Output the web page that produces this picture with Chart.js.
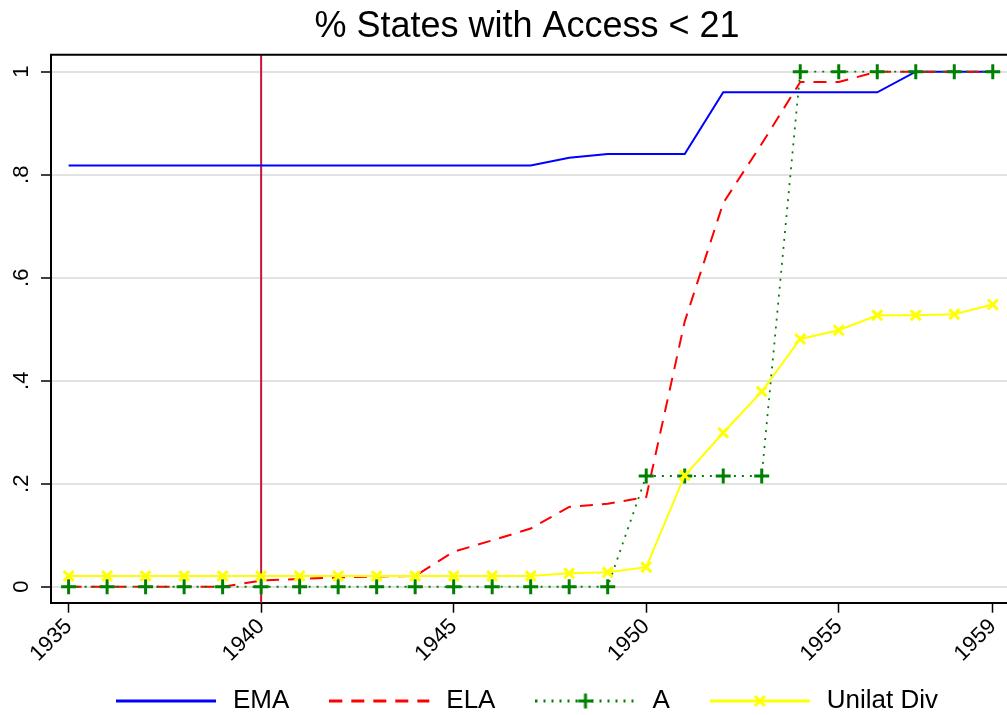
<!DOCTYPE html>
<html><head><meta charset="utf-8">
<script src="https://cdn.jsdelivr.net/npm/chart.js@4/dist/chart.umd.min.js"></script>
<style>
html,body{margin:0;padding:0;overflow:hidden;background:#fff;width:1007px;height:715px}
#wrap{position:absolute;left:0;top:0;width:1054px;height:724px}
</style>
</head><body>
<div id="wrap"><canvas id="c"></canvas></div>
<script>
// ---- data ----
const years = [1935,1936,1937,1938,1939,1940,1941,1942,1943,1944,1945,1946,1947,1948,1949,1950,1951,1952,1953,1954,1955,1956,1957,1958,1959];
const ema = [0.818,0.818,0.818,0.818,0.818,0.818,0.818,0.818,0.818,0.818,0.818,0.818,0.818,0.833,0.840,0.840,0.840,0.960,0.960,0.960,0.960,0.960,1,1,1];
const ela = [0,0,0,0,0,0.012,0.015,0.018,0.020,0.021,0.068,0.090,0.113,0.155,0.161,0.174,0.515,0.745,0.860,0.980,0.980,1,1,1,1];
const aSeries = [0,0,0,0,0,0,0,0,0,0,0,0,0,0,0,0.215,0.215,0.215,0.215,1,1,1,1,1,1];
const unilat = [0.021,0.021,0.021,0.021,0.021,0.021,0.021,0.021,0.021,0.021,0.021,0.021,0.021,0.026,0.028,0.038,0.216,0.299,0.379,0.481,0.498,0.527,0.527,0.529,0.548];
const seriesNames = ['EMA','ELA','A','Unilat Div'];
const xTickValues = [1935,1940,1945,1950,1955,1959];
const yTickValues = [0,0.2,0.4,0.6,0.8,1];
const yTickLabels = ['0','.2','.4','.6','.8','1'];
const markerYear = 1940;
const titleText = '% States with Access < 21';

// ---- styles ----
const FONT = "'Liberation Sans', Arial, Helvetica, sans-serif";
const colors = ['#0000ff','#ff0000','#008000','#ffff00'];
const dashes = [[],[13,9],[2,6],[]];
const widths = [2,2,1.8,2];
const markerStyles = [false,false,'cross','crossRot'];
const markerRadius = [0,0,7.5,7];

// linear scale whose tick labels are not clipped to the axis box
class OpenLinearScale extends Chart.LinearScale {
  _computeLabelArea() { return undefined; }
}
OpenLinearScale.id = 'openLinear';
OpenLinearScale.defaults = Chart.LinearScale.defaults;
Chart.register(OpenLinearScale);

function drawMarker(ctx, style, x, y, r, color, w){
  ctx.save();
  ctx.setLineDash([]);
  ctx.strokeStyle = color; ctx.lineWidth = w;
  ctx.beginPath();
  if (style === 'cross'){
    ctx.moveTo(x - r, y); ctx.lineTo(x + r, y);
    ctx.moveTo(x, y - r); ctx.lineTo(x, y + r);
  } else if (style === 'crossRot'){
    const d = r * Math.SQRT1_2;
    ctx.moveTo(x - d, y - d); ctx.lineTo(x + d, y + d);
    ctx.moveTo(x - d, y + d); ctx.lineTo(x + d, y - d);
  }
  ctx.stroke();
  ctx.restore();
}
function makeSwatch(i){
  const c = document.createElement('canvas');
  c.width = 104; c.height = 24;
  const ctx = c.getContext('2d');
  ctx.strokeStyle = colors[i];
  ctx.lineWidth = widths[i] + 1;
  ctx.setLineDash(dashes[i]);
  ctx.beginPath(); ctx.moveTo(0, 12); ctx.lineTo(100, 12); ctx.stroke();
  if (markerStyles[i]) drawMarker(ctx, markerStyles[i], 50, 12, markerRadius[i], colors[i], 3);
  return c;
}
const swatches = seriesNames.map((n,i)=>makeSwatch(i));

const xMin = 1934.543, xMax = 1960.59;

const framePlugin = {
  id: 'frame',
  beforeDatasetsDraw(chart){
    const {ctx, chartArea} = chart;
    const px = chart.scales.x.getPixelForValue(markerYear);
    ctx.save();
    ctx.strokeStyle = '#c8143c';
    ctx.lineWidth = 2;
    ctx.beginPath(); ctx.moveTo(px, chartArea.top); ctx.lineTo(px, chartArea.bottom); ctx.stroke();
    ctx.restore();
  },
  afterDraw(chart){
    const {ctx, chartArea} = chart;
    ctx.save();
    ctx.strokeStyle = '#000'; ctx.lineWidth = 2;
    ctx.beginPath(); ctx.moveTo(chartArea.left - 1, chartArea.top); ctx.lineTo(chartArea.right, chartArea.top); ctx.stroke();
    ctx.restore();
  }
};

const series = [ema, ela, aSeries, unilat];
const datasets = series.map((d,i)=>({
  label: seriesNames[i],
  data: d,
  borderColor: colors[i],
  backgroundColor: colors[i],
  borderWidth: widths[i],
  borderDash: dashes[i],
  pointStyle: markerStyles[i] || 'circle',
  pointRadius: markerRadius[i],
  pointBorderWidth: 3,
  pointBorderColor: colors[i],
  pointHoverRadius: 0,
  tension: 0,
  fill: false,
  clip: 12,
  order: 4 - i
}));

new Chart(document.getElementById('c'), {
  type: 'line',
  data: { labels: years, datasets },
  options: {
    responsive: true,
    maintainAspectRatio: false,
    animation: false,
    events: [],
    layout: { padding: 0, autoPadding: false },
    scales: {
      x: {
        type: 'openLinear', min: xMin, max: xMax,
        afterBuildTicks: s => { s.ticks = xTickValues.map(v => ({value: v})); },
        afterFit: s => { s.height = 45.3; s.paddingRight = 0; s.paddingLeft = 0; },
        ticks: { autoSkip: false, minRotation: 45, maxRotation: 45, padding: 1, color: '#000',
                 font: { family: FONT, size: 22 }, callback: v => String(v) },
        grid: { drawOnChartArea: false, drawTicks: true, tickLength: 10, tickColor: '#000', tickWidth: 1.5 },
        border: { display: true, color: '#000', width: 2 }
      },
      y: {
        type: 'linear', min: -0.031, max: 1.033,
        afterBuildTicks: s => { s.ticks = yTickValues.map(v => ({value: v})); },
        afterFit: s => { s.width = 51; s.paddingTop = 0; s.paddingBottom = 0; },
        ticks: { minRotation: 90, maxRotation: 90, crossAlign: 'center', padding: 10, color: '#000',
                 font: { family: FONT, size: 22 },
                 callback: (v) => { const k = yTickValues.findIndex(t => Math.abs(t - v) < 1e-9); return k >= 0 ? yTickLabels[k] : ''; } },
        grid: { color: '#e2e2e2', lineWidth: 2, tickColor: '#000', tickLength: 10, tickWidth: 1.5 },
        border: { display: true, color: '#000', width: 2 }
      }
    },
    plugins: {
      title: { display: true, text: titleText, color: '#000',
               font: { family: FONT, size: 36, weight: 'normal' }, padding: { top: 5, bottom: 6.5 } },
      legend: {
        display: true, position: 'bottom',
        labels: {
          usePointStyle: true, pointStyleWidth: 104, padding: 40, color: '#000',
          font: { family: FONT, size: 26 },
          sort: (a, b) => a.datasetIndex - b.datasetIndex,
          generateLabels: (chart) => {
            const items = Chart.defaults.plugins.legend.labels.generateLabels(chart);
            items.forEach(it => { it.pointStyle = swatches[it.datasetIndex]; });
            return items;
          }
        }
      },
      tooltip: { enabled: false }
    }
  },
  plugins: [framePlugin]
});
</script>
</body></html>
